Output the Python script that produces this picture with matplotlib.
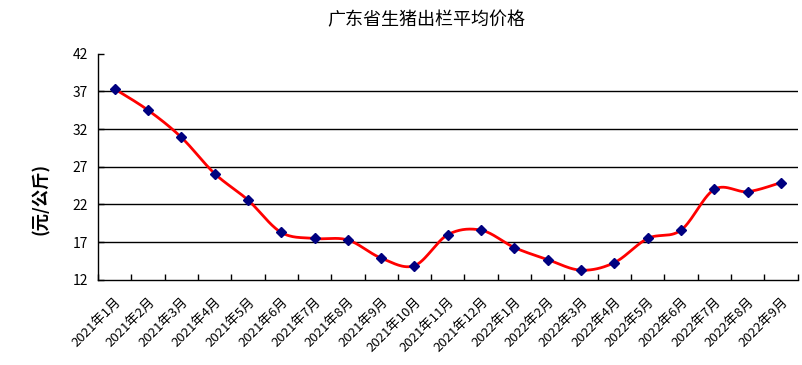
import numpy as np
import matplotlib
matplotlib.use("Agg")
import matplotlib.pyplot as plt

plt.rcParams['font.family'] = ['Noto Sans CJK SC', 'DejaVu Sans']

categories = ["2021年1月", "2021年2月", "2021年3月", "2021年4月", "2021年5月", "2021年6月",
              "2021年7月", "2021年8月", "2021年9月", "2021年10月", "2021年11月", "2021年12月",
              "2022年1月", "2022年2月", "2022年3月", "2022年4月", "2022年5月", "2022年6月",
              "2022年7月", "2022年8月", "2022年9月"]
prices = [37.3, 34.5, 30.9, 26.1, 22.6, 18.3, 17.5, 17.3, 14.9, 13.9, 18.0, 18.6,
          16.3, 14.7, 13.3, 14.3, 17.5, 18.6, 24.0, 23.7, 24.9]
yticks = [12, 17, 22, 27, 32, 37, 42]

def smooth(x, y, n=30):
    # Catmull-Rom style Bezier smoothing (like spreadsheet smoothed lines)
    x = np.asarray(x, float); y = np.asarray(y, float)
    px = np.concatenate([[x[0]], x, [x[-1]]])
    py = np.concatenate([[y[0]], y, [y[-1]]])
    xs, ys = [], []
    t = np.linspace(0, 1, n)
    for i in range(1, len(px) - 2):
        p0 = np.array([px[i], py[i]]); p3 = np.array([px[i + 1], py[i + 1]])
        c1 = p0 + (np.array([px[i + 1], py[i + 1]]) - np.array([px[i - 1], py[i - 1]])) / 6
        c2 = p3 - (np.array([px[i + 2], py[i + 2]]) - np.array([px[i], py[i]])) / 6
        b = ((1 - t) ** 3)[:, None] * p0 + (3 * (1 - t) ** 2 * t)[:, None] * c1 + \
            (3 * (1 - t) * t ** 2)[:, None] * c2 + (t ** 3)[:, None] * p3
        xs.extend(b[:, 0]); ys.extend(b[:, 1])
    return np.array(xs), np.array(ys)

fig = plt.figure(figsize=(8.02, 3.65), dpi=100)
ax = fig.add_axes([0.1222, 0.2329, 0.8723, 0.6205])

x = np.arange(len(categories))
sx, sy = smooth(x, prices)
ax.plot(sx, sy, color='#ff0000', lw=2.0, zorder=3, solid_capstyle='round')
ax.plot(x, prices, linestyle='none', marker='D', markersize=5.5, color='#000080', zorder=4)

ax.set_xlim(-0.5, len(categories) - 0.5)
ax.set_ylim(12, 42)
ax.set_yticks(yticks)
ax.set_yticklabels([str(v) for v in yticks], fontsize=10)
for v in yticks[1:-1]:
    ax.axhline(v, color='black', lw=1.0, zorder=1)

ax.set_xticks(x)
ax.set_xticklabels(categories, rotation=45, ha='right', va='top', rotation_mode='anchor', fontsize=9.5)
ax.set_xticks(np.arange(-0.5, len(categories) + 0.5, 1), minor=True)
ax.tick_params(axis='x', which='major', length=0, pad=11)
ax.tick_params(axis='x', which='minor', direction='in', length=4, width=1, color='black')
ax.tick_params(axis='y', direction='in', length=4, width=1, pad=7)

for s in ['top', 'right']:
    ax.spines[s].set_visible(False)
for s in ['left', 'bottom']:
    ax.spines[s].set_color('black')
    ax.spines[s].set_linewidth(1.0)

ax.set_ylabel('(元/公斤)', fontsize=12.5, fontweight='bold')
ax.yaxis.set_label_coords(-0.068, 0.36)
fig.text(0.532, 0.945, '广东省生猪出栏平均价格', ha='center', va='center', fontsize=13)

fig.savefig('out.png', dpi=100)
